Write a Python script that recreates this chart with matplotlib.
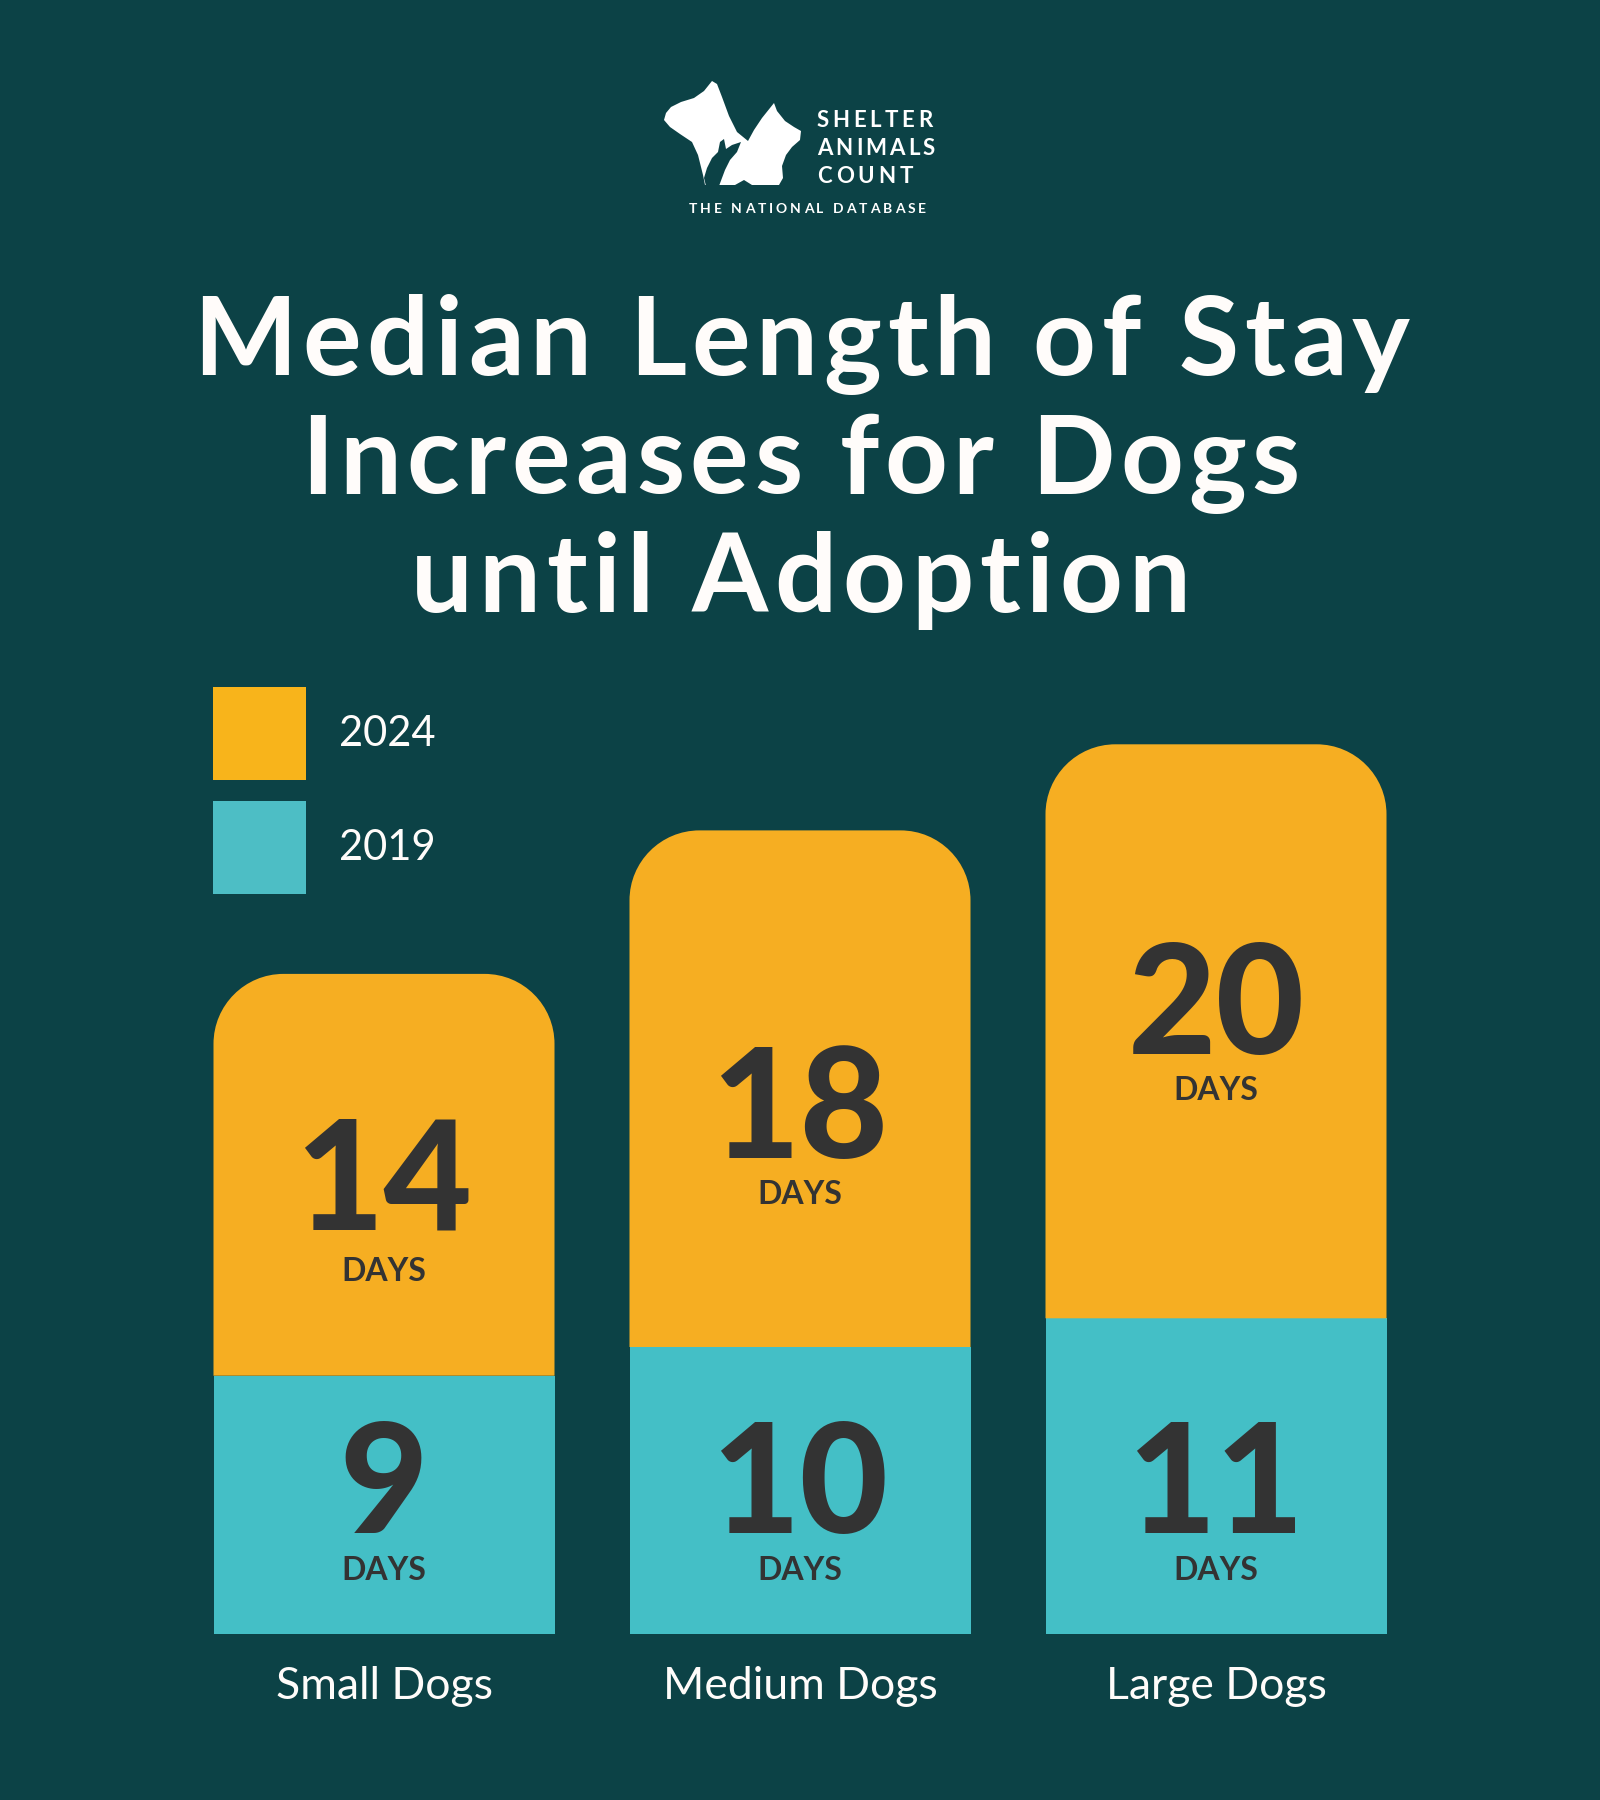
import matplotlib
matplotlib.use("Agg")
import matplotlib.pyplot as plt
from matplotlib.path import Path
from matplotlib.patches import PathPatch, Rectangle, Polygon
import numpy as np

# ---------------- data ----------------
categories = ["Small Dogs", "Medium Dogs", "Large Dogs"]
days_2019 = [9, 10, 11]
days_2024 = [14, 18, 20]
series_labels = ["2024", "2019"]
title_lines = ["Median Length of Stay", "Increases for Dogs", "until Adoption"]
unit_label = "DAYS"
logo_lines = ["SHELTER", "ANIMALS", "COUNT"]
logo_tagline = "THE NATIONAL DATABASE"

# ---------------- style ----------------
BG = "#0C4246"
ORANGE = "#F6AE22"
TEAL = "#44BFC6"
LEG_ORANGE = "#F8B41B"
LEG_TEAL = "#4DBEC5"
DARK = "#333333"
WHITE = "#FFFCFA"
FONT = ["Lato", "DejaVu Sans"]

W, H = 1600, 1800
fig = plt.figure(figsize=(16, 18), dpi=100, facecolor=BG)

# decoration axes: pixel coordinates, y measured from top
deco = fig.add_axes([0, 0, 1, 1])
deco.set_xlim(0, W)
deco.set_ylim(H, 0)
deco.axis("off")
deco.patch.set_visible(False)

renderer = fig.canvas.get_renderer()


def text_width(s, **kw):
    t = deco.text(0, 0, s, **kw)
    w = t.get_window_extent(renderer).width
    t.remove()
    return w


def tracked_text(x_left, x_right, y, s, **kw):
    ref = text_width("I", **kw)
    natural = text_width(s, **kw)
    track = (x_right - x_left - natural) / max(len(s) - 1, 1)
    for i, ch in enumerate(s):
        if ch == " ":
            continue
        pre = text_width(s[:i] + "I", **kw) - ref if i > 0 else 0
        deco.text(x_left + pre + i * track, y, ch, ha="left", va="baseline", **kw)


# ---------------- logo ----------------
white_shape = [(666, 113), (671, 107), (681, 102), (694, 98), (704, 91), (712, 81),
               (717, 84), (722, 97), (729, 116), (737, 132), (748, 141), (754, 130),
               (762, 118), (774, 103), (777, 111), (785, 121), (794, 127), (801, 131),
               (800, 140), (792, 147), (786, 155), (782, 166), (783, 178), (779, 185),
               (752, 185), (744, 180), (735, 185), (705, 185), (703, 175), (698, 155),
               (692, 142), (680, 134), (670, 127), (664, 120)]
bunny = [(707, 168), (712, 158), (718, 152), (720, 142), (724, 139), (726, 149),
         (732, 145), (741, 142), (737, 152), (730, 160), (725, 170), (719, 186),
         (706, 186), (704, 178)]
deco.add_patch(Polygon(white_shape, closed=True, facecolor="white", edgecolor="none",
                       joinstyle="round"))
deco.add_patch(Polygon(bunny, closed=True, facecolor=BG, edgecolor="none"))

logo_kw = dict(fontsize=16, fontweight="bold", color="white", family=FONT)
logo_right = [932, 935, 913]
for i, line in enumerate(logo_lines):
    tracked_text(817, logo_right[i], 127 + i * 28, line, **logo_kw)
tracked_text(689, 926, 213, logo_tagline, fontsize=10, fontweight="bold",
             color="white", family=FONT)

# ---------------- title ----------------
title_span = [(193, 1410), (301, 1300), (411, 1190)]
for i, line in enumerate(title_lines):
    tracked_text(title_span[i][0], title_span[i][1], 375 + i * 118.5, line,
                 fontsize=79, fontweight="bold", color=WHITE, family=FONT)

# ---------------- legend ----------------
leg_colors = [LEG_ORANGE, LEG_TEAL]
for i, (lab, col) in enumerate(zip(series_labels, leg_colors)):
    top = 687 + i * 114
    deco.add_patch(Rectangle((213, top), 93, 93, facecolor=col, edgecolor="none"))
    deco.text(339, top + 59, lab, ha="left", va="baseline", fontsize=30,
              color=WHITE, family=FONT)

# ---------------- bars ----------------
PX_PER_DAY = 28.7
BOTTOM_PX = 1634
YMAX = 40
SLOT = 416
ax = fig.add_axes([176 / W, 1 - BOTTOM_PX / H, 3 * SLOT / W, YMAX * PX_PER_DAY / H])
ax.set_xlim(-0.5, 2.5)
ax.set_ylim(0, YMAX)
ax.axis("off")
ax.patch.set_visible(False)

x = np.arange(len(categories))
width = 341 / SLOT
teal_bars = ax.bar(x, days_2019, width, color=TEAL, linewidth=0)
orange_bars = ax.bar(x, days_2024, width, bottom=days_2019, color=ORANGE, linewidth=0)

rx = 70 / SLOT
ry = 70 / PX_PER_DAY
k = 0.5523
for b in orange_bars:
    x0, y0, w, h = b.get_x(), b.get_y(), b.get_width(), b.get_height()
    x1, y1 = x0 + w, y0 + h
    verts = [(x0, y0), (x0, y1 - ry),
             (x0, y1 - ry + k * ry), (x0 + rx - k * rx, y1), (x0 + rx, y1),
             (x1 - rx, y1),
             (x1 - rx + k * rx, y1), (x1, y1 - ry + k * ry), (x1, y1 - ry),
             (x1, y0), (x0, y0)]
    codes = [Path.MOVETO, Path.LINETO,
             Path.CURVE4, Path.CURVE4, Path.CURVE4,
             Path.LINETO,
             Path.CURVE4, Path.CURVE4, Path.CURVE4,
             Path.LINETO, Path.CLOSEPOLY]
    b.set_visible(False)
    ax.add_patch(PathPatch(Path(verts, codes), facecolor=ORANGE, edgecolor="none"))

# value labels (layout positions in day units)
num_y_2024 = [14.1, 16.6, 20.2]
unit_y_2024 = [12.3, 15.0, 18.6]
num_y_2019 = 3.52
unit_y_2019 = 1.88
num_kw = dict(ha="center", va="baseline", fontsize=110, fontweight="black",
              color=DARK, family=FONT)
unit_kw = dict(ha="center", va="baseline", fontsize=23, fontweight="bold",
               color=DARK, family=FONT)
for i in range(len(categories)):
    cx = teal_bars[i].get_x() + teal_bars[i].get_width() / 2
    ax.text(cx, num_y_2024[i], str(days_2024[i]), **num_kw)
    ax.text(cx, unit_y_2024[i], unit_label, **unit_kw)
    ax.text(cx, num_y_2019, str(days_2019[i]), **num_kw)
    ax.text(cx, unit_y_2019, unit_label, **unit_kw)
    ax.text(cx, -65 / PX_PER_DAY, categories[i], ha="center", va="baseline",
            fontsize=32, color=WHITE, family=FONT)

fig.savefig("out.png", dpi=100, facecolor=BG)
